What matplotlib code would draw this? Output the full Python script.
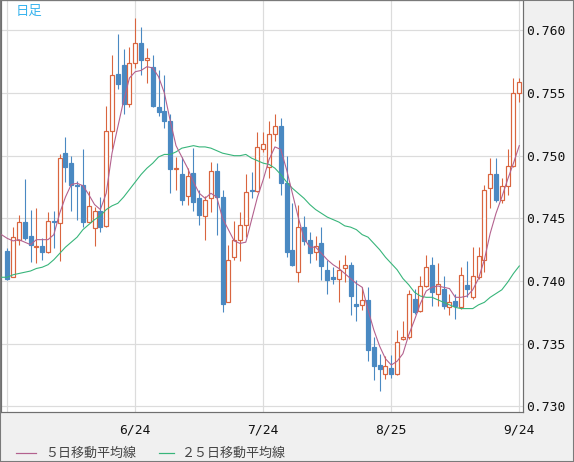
import numpy as np
import matplotlib
matplotlib.use('Agg')
import matplotlib.pyplot as plt
from matplotlib.lines import Line2D
from matplotlib.patches import Rectangle

# daily candles
opens = [0.7424, 0.7403, 0.7433, 0.7447, 0.7436, 0.7427, 0.7428, 0.7423, 0.7448, 0.7446,
         0.7502, 0.7494, 0.7477, 0.7477, 0.7447, 0.7442, 0.7456, 0.7444, 0.7520, 0.7565,
         0.7572, 0.7541, 0.7574, 0.7590, 0.7576, 0.7571, 0.7539, 0.7536, 0.7528, 0.7489,
         0.7485, 0.7468, 0.7486, 0.7466, 0.7452, 0.7466, 0.7488, 0.7467, 0.7383, 0.7419,
         0.7433, 0.7445, 0.7473, 0.7472, 0.7505, 0.7491, 0.7517, 0.7524, 0.7478, 0.7425,
         0.7407, 0.7443, 0.7433, 0.7423, 0.7430, 0.7409, 0.7403, 0.7402, 0.7410, 0.7413,
         0.7382, 0.7381, 0.7385, 0.7347, 0.7333, 0.7326, 0.7331, 0.7326, 0.7354, 0.7355,
         0.7386, 0.7376, 0.7396, 0.7413, 0.7390, 0.7394, 0.7379, 0.7384, 0.7379, 0.7397,
         0.7387, 0.7403, 0.7417, 0.7474, 0.7485, 0.7465, 0.7476, 0.7492, 0.7550]
highs = [0.7426, 0.7443, 0.7453, 0.7481, 0.7457, 0.7458, 0.7434, 0.7455, 0.7456, 0.7501,
         0.7515, 0.7500, 0.7480, 0.7505, 0.7472, 0.7459, 0.7467, 0.7540, 0.7580, 0.7597,
         0.7585, 0.7587, 0.7610, 0.7603, 0.7586, 0.7580, 0.7568, 0.7564, 0.7533, 0.7499,
         0.7499, 0.7490, 0.7506, 0.7473, 0.7468, 0.7495, 0.7494, 0.7473, 0.7429, 0.7448,
         0.7455, 0.7485, 0.7487, 0.7519, 0.7519, 0.7528, 0.7533, 0.7530, 0.7500, 0.7462,
         0.7461, 0.7452, 0.7439, 0.7436, 0.7443, 0.7417, 0.7411, 0.7417, 0.7421, 0.7415,
         0.7401, 0.7395, 0.7395, 0.7355, 0.7342, 0.7340, 0.7341, 0.7361, 0.7368, 0.7393,
         0.7394, 0.7404, 0.7421, 0.7419, 0.7414, 0.7404, 0.7390, 0.7390, 0.7411, 0.7416,
         0.7427, 0.7427, 0.7477, 0.7498, 0.7498, 0.7482, 0.7505, 0.7562, 0.7562]
lows = [0.7401, 0.7403, 0.7429, 0.7433, 0.7415, 0.7414, 0.7417, 0.7422, 0.7426, 0.7416,
        0.7479, 0.7456, 0.7449, 0.7443, 0.7447, 0.7428, 0.7439, 0.7443, 0.7505, 0.7553,
        0.7533, 0.7539, 0.7570, 0.7564, 0.7558, 0.7539, 0.7532, 0.7522, 0.7470, 0.7473,
        0.7461, 0.7461, 0.7456, 0.7445, 0.7433, 0.7455, 0.7437, 0.7375, 0.7383, 0.7417,
        0.7416, 0.7435, 0.7466, 0.7471, 0.7503, 0.7482, 0.7512, 0.7469, 0.7419, 0.7412,
        0.7399, 0.7429, 0.7414, 0.7417, 0.7401, 0.7390, 0.7398, 0.7383, 0.7399, 0.7373,
        0.7368, 0.7377, 0.7336, 0.7321, 0.7312, 0.7322, 0.7323, 0.7325, 0.7353, 0.7354,
        0.7374, 0.7375, 0.7395, 0.7380, 0.7380, 0.7378, 0.7373, 0.7370, 0.7378, 0.7387,
        0.7386, 0.7402, 0.7407, 0.7458, 0.7463, 0.7462, 0.7469, 0.7491, 0.7543]
closes = [0.7402, 0.7435, 0.7447, 0.7434, 0.7429, 0.7428, 0.7423, 0.7448, 0.7447, 0.7498,
          0.7491, 0.7477, 0.7476, 0.7447, 0.7460, 0.7456, 0.7443, 0.7520, 0.7564, 0.7557,
          0.7541, 0.7574, 0.7590, 0.7576, 0.7578, 0.7540, 0.7535, 0.7528, 0.7489, 0.7490,
          0.7465, 0.7484, 0.7463, 0.7453, 0.7465, 0.7488, 0.7467, 0.7382, 0.7417, 0.7433,
          0.7445, 0.7471, 0.7472, 0.7507, 0.7509, 0.7517, 0.7524, 0.7478, 0.7423, 0.7413,
          0.7443, 0.7432, 0.7422, 0.7428, 0.7412, 0.7401, 0.7402, 0.7409, 0.7413, 0.7388,
          0.7380, 0.7385, 0.7345, 0.7332, 0.7330, 0.7332, 0.7326, 0.7351, 0.7355, 0.7390,
          0.7375, 0.7396, 0.7411, 0.7391, 0.7398, 0.7380, 0.7383, 0.7380, 0.7405, 0.7394,
          0.7404, 0.7420, 0.7473, 0.7485, 0.7465, 0.7476, 0.7492, 0.7550, 0.7559]

# moving averages, first value belongs to the day before the first candle
ma5 = [0.7437,
       0.7434, 0.7432, 0.7433, 0.7431, 0.7429, 0.7433, 0.7433, 0.7433, 0.7437, 0.7454,
       0.7467, 0.7477, 0.7478, 0.7476, 0.7469, 0.7461, 0.7457, 0.7470, 0.7502, 0.7523,
       0.7544, 0.7562, 0.7567, 0.7568, 0.7571, 0.7570, 0.7563, 0.7550, 0.7528, 0.7508,
       0.7499, 0.7490, 0.7479, 0.7470, 0.7466, 0.7470, 0.7467, 0.7450, 0.7441, 0.7432,
       0.7430, 0.7431, 0.7449, 0.7467, 0.7481, 0.7497, 0.7507, 0.7505, 0.7489, 0.7470,
       0.7451, 0.7434, 0.7427, 0.7427, 0.7422, 0.7417, 0.7413, 0.7410, 0.7406, 0.7402,
       0.7398, 0.7395, 0.7377, 0.7361, 0.7348, 0.7338, 0.7333, 0.7336, 0.7342, 0.7357,
       0.7369, 0.7382, 0.7392, 0.7395, 0.7396, 0.7395, 0.7394, 0.7387, 0.7387, 0.7388,
       0.7393, 0.7402, 0.7417, 0.7438, 0.7454, 0.7467, 0.7481, 0.7494, 0.7508]
ma25 = [0.7403,
        0.7403, 0.7405, 0.7406, 0.7407, 0.7408, 0.7410, 0.7411, 0.7413, 0.7417, 0.7422,
        0.7427, 0.7431, 0.7435, 0.7441, 0.7445, 0.7449, 0.7452, 0.7457, 0.7460, 0.7462,
        0.7467, 0.7473, 0.7479, 0.7485, 0.7490, 0.7494, 0.7499, 0.7501, 0.7501, 0.7503,
        0.7506, 0.7507, 0.7508, 0.7507, 0.7507, 0.7506, 0.7504, 0.7502, 0.7501, 0.7500,
        0.7500, 0.7501, 0.7498, 0.7496, 0.7494, 0.7493, 0.7490, 0.7485, 0.7479, 0.7474,
        0.7470, 0.7466, 0.7461, 0.7457, 0.7454, 0.7451, 0.7449, 0.7447, 0.7444, 0.7443,
        0.7441, 0.7437, 0.7435, 0.7430, 0.7425, 0.7419, 0.7414, 0.7409, 0.7402, 0.7397,
        0.7391, 0.7388, 0.7387, 0.7387, 0.7385, 0.7383, 0.7381, 0.7379, 0.7378, 0.7378,
        0.7378, 0.7381, 0.7383, 0.7387, 0.7390, 0.7393, 0.7399, 0.7406, 0.7412]

date_pos = [0, 22, 44, 66, 88]
date_labels = ['', '6/24', '7/24', '8/25', '9/24']
y_ticks = [0.730, 0.735, 0.740, 0.745, 0.750, 0.755, 0.760]

red = '#d9653f'
blue = '#4a89c2'
ma5_color = '#b3618e'
ma25_color = '#37b57a'
px = 0.72  # one pixel in points at dpi 100

o = np.array(opens)
h = np.array(highs)
l = np.array(lows)
c = np.array(closes)
x = np.arange(len(o))
up = c >= o
cols = [red if u else blue for u in up]

fig = plt.figure(figsize=(5.74, 4.62), dpi=100, facecolor='#f0f0f0')
ax = fig.add_axes([1/574, 50/462, 522/574, 412/462])
ax.set_facecolor('white')

# wicks then bodies
ax.vlines(x, l, h, colors=cols, lw=px * 1.1, zorder=2)
body_h = np.maximum(np.abs(c - o), 0.00002)
ax.bar(x, body_h, bottom=np.minimum(o, c), width=0.68,
       color=['white' if u else blue for u in up], edgecolor=cols,
       linewidth=px * 1.2, zorder=3)

ma_x = np.arange(-1, len(o))
ax.plot(ma_x, ma25, color=ma25_color, lw=px * 1.1, zorder=4)
ax.plot(ma_x, ma5, color=ma5_color, lw=px * 1.1, zorder=5)

ax.set_xlim(-1.08, 88.64)
ax.set_ylim(0.72955, 0.76242)
ax.set_xticks(date_pos)
ax.set_xticklabels(date_labels)
ax.set_yticks(y_ticks)
ax.set_yticklabels(['%.3f' % v for v in y_ticks])
ax.yaxis.tick_right()
ax.grid(True, color='#dcdcdc', lw=px * 1.2)
ax.set_axisbelow(True)
ax.tick_params(axis='y', length=0, pad=2, labelsize=9.4, labelcolor='#111111')
ax.tick_params(axis='x', length=0, pad=8, labelsize=9.4, labelcolor='#111111')
for lab in ax.get_xticklabels() + ax.get_yticklabels():
    lab.set_family('DejaVu Sans Mono')
for sp in ax.spines.values():
    sp.set_color('#6f6f6f')
    sp.set_linewidth(px * 1.2)

jp = ['Noto Sans CJK JP', 'DejaVu Sans']
fig.text(16/574, 1 - 10.5/462, '日足', color='#3ab4ee', fontsize=9.6,
         family=jp, va='center')

# legend under the chart
ly = 1 - 453/462
fig.add_artist(Line2D([16/574, 36/574], [ly, ly], color=ma5_color, lw=px * 1.2))
fig.text(45/574, ly, '５日移動平均線', fontsize=9.4, family=jp,
         color='#444444', va='center')
fig.add_artist(Line2D([159/574, 174/574], [ly, ly], color=ma25_color, lw=px * 1.2))
fig.text(182/574, ly, '２５日移動平均線', fontsize=9.4, family=jp,
         color='#444444', va='center')

fig.add_artist(Rectangle((0, 0), 1, 1, transform=fig.transFigure, fill=False,
                         edgecolor='#7a7a7a', lw=1.5))

fig.savefig('out.png', dpi=100, facecolor=fig.get_facecolor())
